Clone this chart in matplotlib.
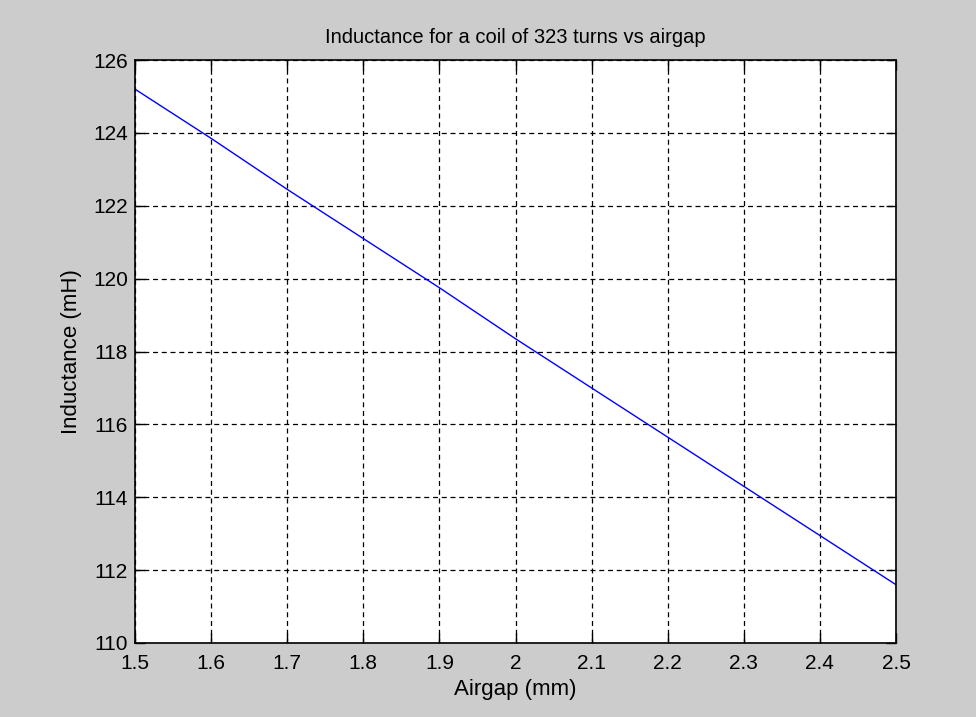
import matplotlib
matplotlib.use("Agg")
import matplotlib.pyplot as plt

# airgap (mm) vs inductance (mH)
airgap = [1.5, 1.6, 1.7, 1.8, 1.9, 2.0, 2.1, 2.2, 2.3, 2.4, 2.5]
inductance = [125.2, 123.85, 122.45, 121.1, 119.75, 118.35, 117.0, 115.65, 114.3, 112.95, 111.6]

x_ticks = [1.5, 1.6, 1.7, 1.8, 1.9, 2, 2.1, 2.2, 2.3, 2.4, 2.5]
x_ticklabels = ["1.5", "1.6", "1.7", "1.8", "1.9", "2", "2.1", "2.2", "2.3", "2.4", "2.5"]
y_ticks = [110, 112, 114, 116, 118, 120, 122, 124, 126]

plt.rcParams["font.family"] = ["Liberation Sans", "DejaVu Sans"]

W, H = 976, 717
fig = plt.figure(figsize=(W / 100, H / 100), dpi=100, facecolor="#cccccc")
ax = fig.add_axes([135 / W, 1 - 643 / H, (896 - 135) / W, (643 - 60) / H])
ax.set_facecolor("white")

ax.plot(airgap, inductance, color="#0000ff", linewidth=1.0)

ax.set_xlim(1.5, 2.5)
ax.set_ylim(110, 126)
ax.set_xticks(x_ticks)
ax.set_xticklabels(x_ticklabels)
ax.set_yticks(y_ticks)

ax.grid(True, color="black", linestyle=(0, (4, 3)), linewidth=0.9)
ax.tick_params(direction="in", length=7, width=1, labelsize=15, color="black",
               top=True, right=True)
ax.tick_params(axis="x", pad=8)
ax.tick_params(axis="y", pad=5)
for s in ax.spines.values():
    s.set_linewidth(1.2)
    s.set_color("black")

ax.set_title("Inductance for a coil of 323 turns vs airgap", fontsize=14.5, pad=12)
ax.set_xlabel("Airgap (mm)", fontsize=16, labelpad=4)
ax.set_ylabel("Inductance (mH)", fontsize=16, labelpad=8)

fig.savefig("out.png", dpi=100, facecolor=fig.get_facecolor())
